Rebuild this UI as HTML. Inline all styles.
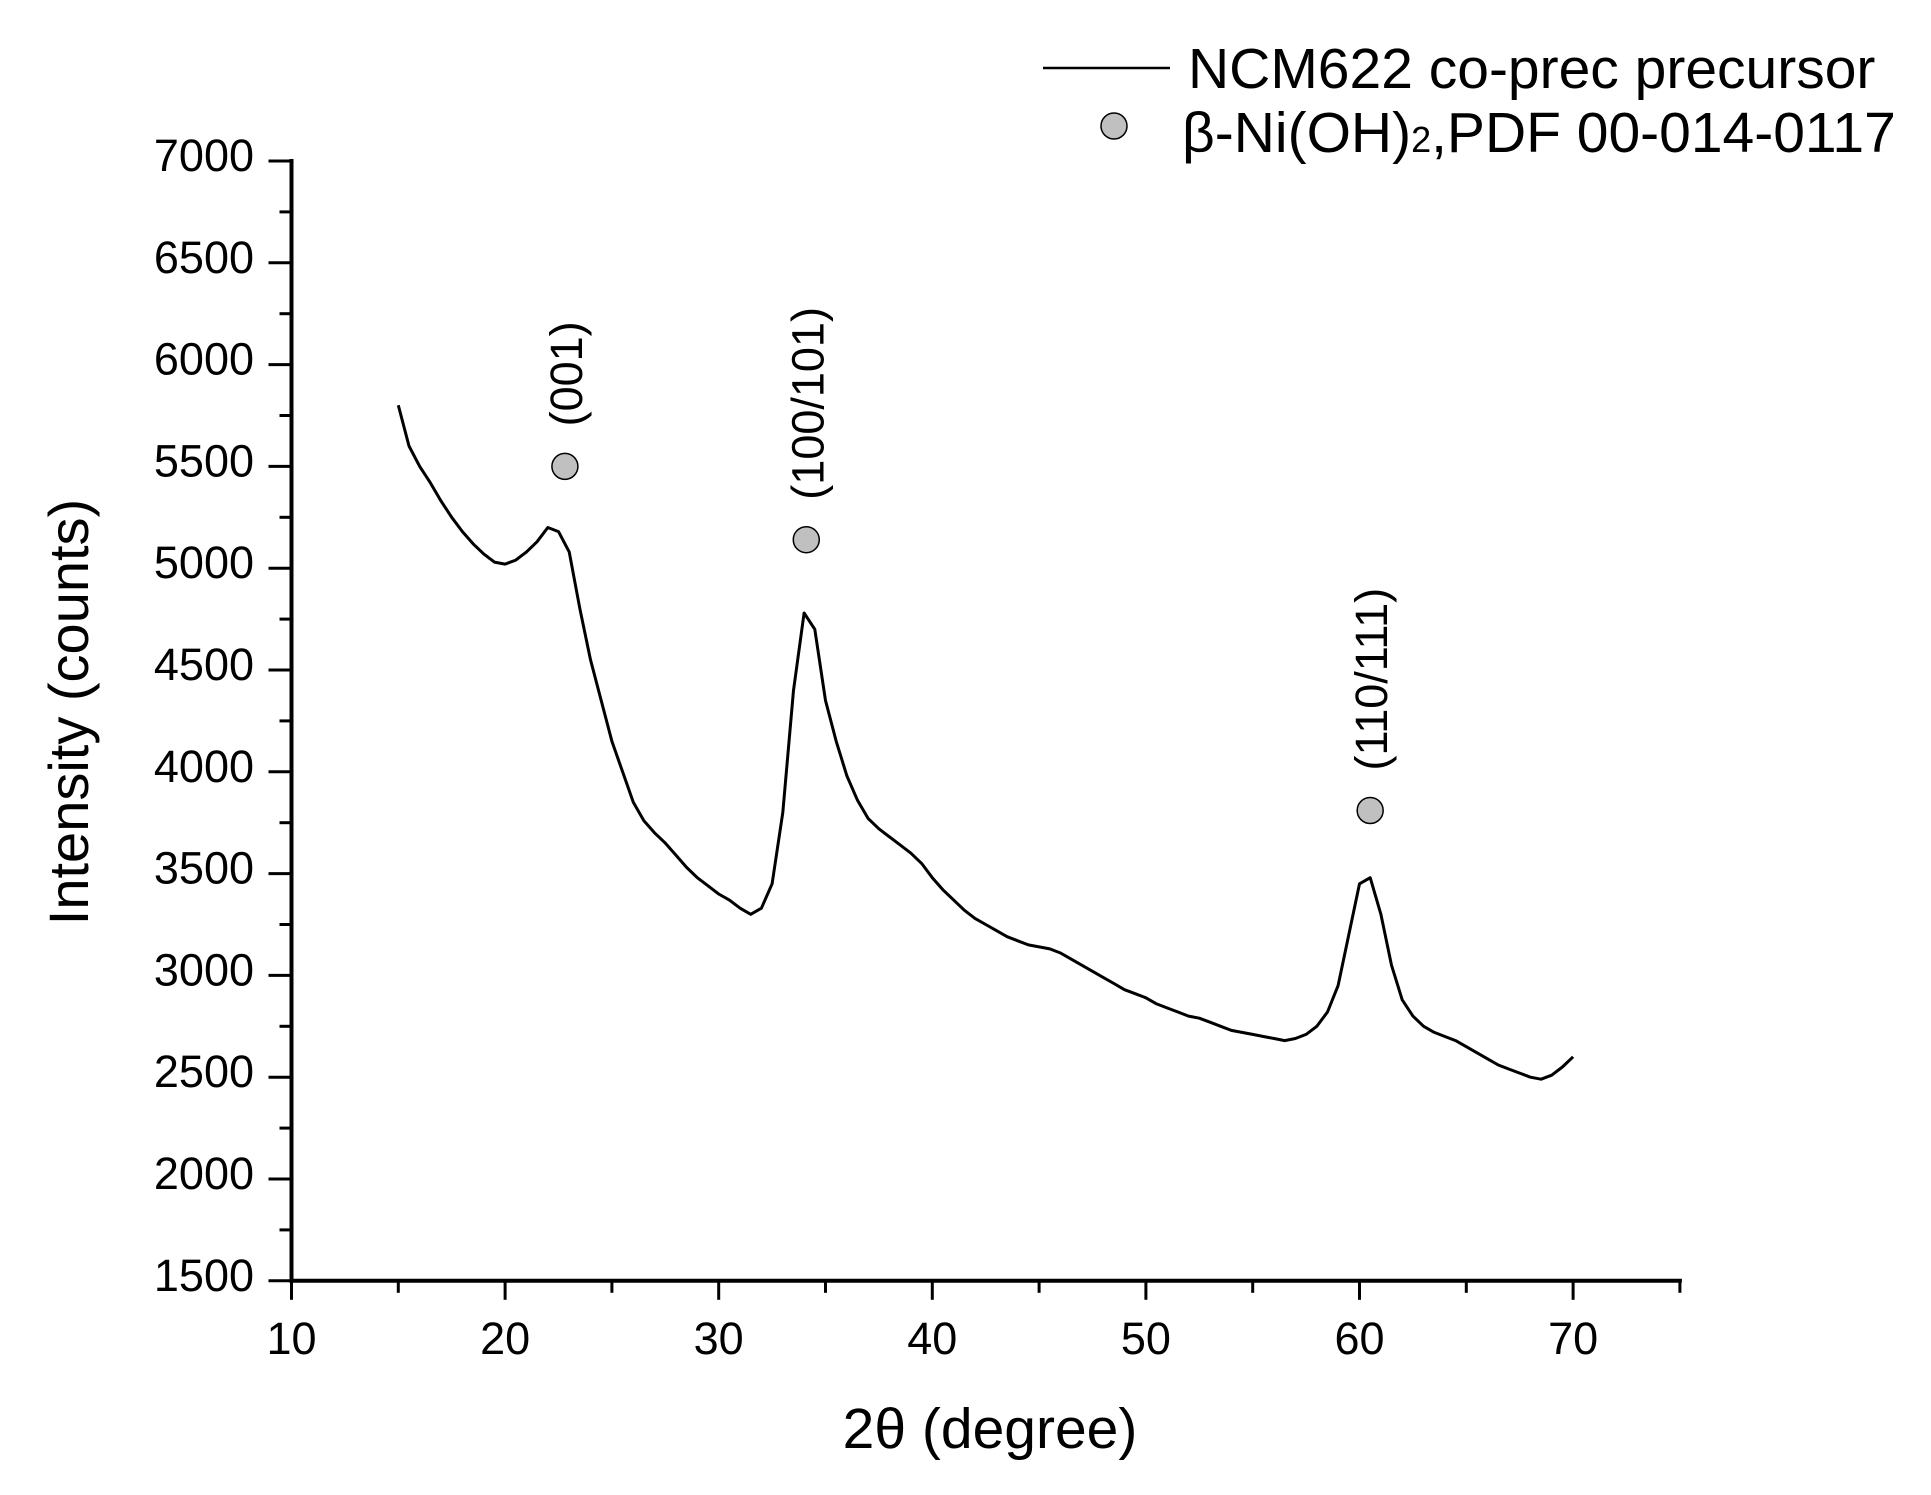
<!DOCTYPE html>
<html><head><meta charset="utf-8"><style>
body{margin:0;background:#fff;}
svg{display:block;font-family:"Liberation Sans",Arial,sans-serif;}
</style></head><body>
<svg id="chart" width="1931" height="1495" viewBox="0 0 1931 1495" xmlns="http://www.w3.org/2000/svg">
<g id="axes"></g>
<g id="series"></g>
<g id="legend">
  <line x1="1043" y1="68" x2="1170" y2="68" stroke="#000" stroke-width="2.5"/>
  <text x="1188" y="88" font-size="57" fill="#000">NCM622 co-prec precursor</text>
  <circle cx="1114" cy="126" r="13" fill="#c0c0c0" stroke="#000" stroke-width="1.5"/>
  <text x="1182" y="152" font-size="57" fill="#000">β-Ni(OH)<tspan font-size="36">2</tspan>,PDF 00-014-0117</text>
</g>
<text x="990" y="1448" font-size="57" text-anchor="middle">2θ (degree)</text>
<text transform="translate(88,712) rotate(-90)" font-size="56" text-anchor="middle">Intensity (counts)</text>
</svg>
<script>
const xTicks=[10,20,30,40,50,60,70];
const yTicks=[1500,2000,2500,3000,3500,4000,4500,5000,5500,6000,6500,7000];
const twoTheta=[15,15.5,16,16.5,17,17.5,18,18.5,19,19.5,20,20.5,21,21.5,22,22.5,23,23.5,24,24.5,25,25.5,26,26.5,27,27.5,28,28.5,29,29.5,30,30.5,31,31.5,32,32.5,33,33.5,34,34.5,35,35.5,36,36.5,37,37.5,38,38.5,39,39.5,40,40.5,41,41.5,42,42.5,43,43.5,44,44.5,45,45.5,46,46.5,47,47.5,48,48.5,49,49.5,50,50.5,51,51.5,52,52.5,53,53.5,54,54.5,55,55.5,56,56.5,57,57.5,58,58.5,59,59.5,60,60.5,61,61.5,62,62.5,63,63.5,64,64.5,65,65.5,66,66.5,67,67.5,68,68.5,69,69.5,70];
const intensity=[5800,5600,5500,5420,5330,5250,5180,5120,5070,5030,5020,5040,5080,5130,5200,5180,5080,4800,4550,4350,4150,4000,3850,3760,3700,3650,3590,3530,3480,3440,3400,3370,3330,3300,3330,3450,3800,4400,4780,4700,4350,4150,3980,3860,3770,3720,3680,3640,3600,3550,3480,3420,3370,3320,3280,3250,3220,3190,3170,3150,3140,3130,3110,3080,3050,3020,2990,2960,2930,2910,2890,2860,2840,2820,2800,2790,2770,2750,2730,2720,2710,2700,2690,2680,2690,2710,2750,2820,2950,3200,3450,3480,3300,3050,2880,2800,2750,2720,2700,2680,2650,2620,2590,2560,2540,2520,2500,2490,2510,2550,2600];
const peakNames=["(001)","(100/101)","(110/111)"];
const peakX=[22.8,34.1,60.5];
const peakY=[5500,5140,3810];

const NS="http://www.w3.org/2000/svg";
const X0=291.5,PX=21.36,Y0=161,PY=0.2036;
function sx(v){return X0+(v-10)*PX;}
function sy(v){return Y0+(7000-v)*PY;}
function mk(tag,attrs,parent){const e=document.createElementNS(NS,tag);for(const k in attrs)e.setAttribute(k,attrs[k]);parent.appendChild(e);return e;}
const axes=document.getElementById('axes');
const series=document.getElementById('series');
const xl=mk('line',{x1:sx(10)-2,y1:sy(1500),x2:sx(75)+2,y2:sy(1500),stroke:'#000','stroke-width':4},axes);


const yl=mk('line',{x1:sx(10),y1:sy(7000)-2,x2:sx(10),y2:sy(1500)+2,stroke:'#000','stroke-width':4},axes);


for(let v=10;v<=75;v+=5){
  const major=(v%10===0);
  const t=mk('line',{x1:sx(v),y1:sy(1500),x2:sx(v),y2:sy(1500)+(major?19:12),stroke:'#000','stroke-width':3},axes);
  
  
}
xTicks.forEach(v=>{
  const t=mk('text',{x:sx(v),y:1354,'font-size':45,'text-anchor':'middle'},axes);
  t.textContent=v;
  
  
});
for(let v=1500;v<=7000;v+=250){
  const major=(v%500===0);
  const t=mk('line',{x1:sx(10),y1:sy(v),x2:sx(10)-(major?23:12),y2:sy(v),stroke:'#000','stroke-width':3},axes);
  
  
}
yTicks.forEach(v=>{
  const t=mk('text',{x:254,y:sy(v)+10,'font-size':45,'text-anchor':'end'},axes);
  t.textContent=v;
  
  
});
let d='';
twoTheta.forEach((x,i)=>{d+=(i?'L':'M')+sx(x).toFixed(1)+','+sy(intensity[i]).toFixed(1);});
const p=mk('path',{d:d,fill:'none',stroke:'#000','stroke-width':3,'stroke-linejoin':'round'},series);


peakX.forEach((x,i)=>{
  const c=mk('circle',{cx:sx(x),cy:sy(peakY[i]),r:13,fill:'#c0c0c0',stroke:'#000','stroke-width':1.5},series);
  
  
  const t=mk('text',{transform:'translate('+(sx(x)+17)+','+(sy(peakY[i])-40)+') rotate(-90)','font-size':45},series);
  t.textContent=peakNames[i];
  
  
});
</script>
</body></html>
